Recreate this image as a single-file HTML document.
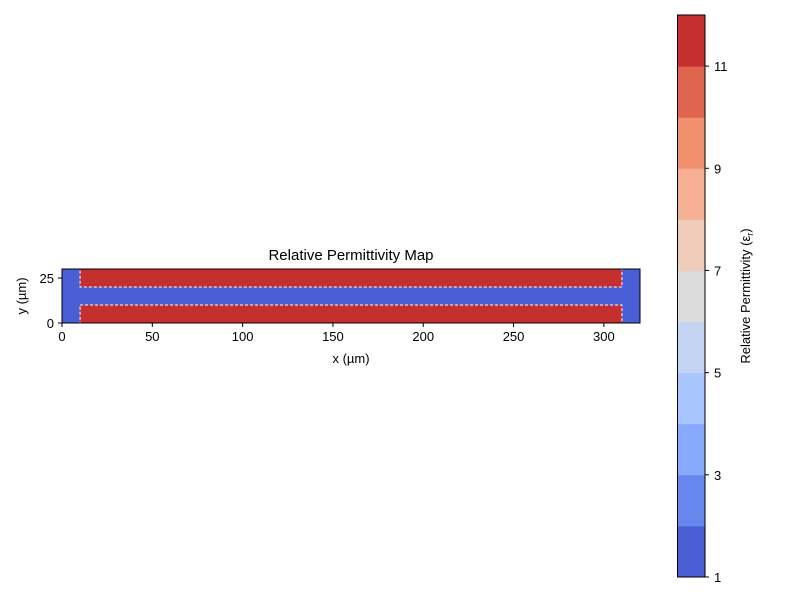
<!DOCTYPE html>
<html><head><meta charset="utf-8"><style>
body{margin:0;background:#fff;}
svg text{font-family:"Liberation Sans","DejaVu Sans",sans-serif;fill:#000;}
</style></head><body>
<svg id="chart" width="800" height="600" viewBox="0 0 800 600" xmlns="http://www.w3.org/2000/svg"></svg>
<script>
const xTicks=[0,50,100,150,200,250,300];
const yTicks=[0,25];
const regionX=[10,310];          // red strips span in x (µm)
const regionY=[[0,10],[20,30]];  // red strip y ranges (µm)
const domainX=[0,320], domainY=[0,30];
const levels=[1,2,3,4,5,6,7,8,9,10,11,12];
const cbTicks=[1,3,5,7,9,11];
const bandColors=["#4a5fd6","#6687ed","#88aafc","#a8c5fe","#c4d5f3","#dcdcdc","#f0cdbb","#f6b194","#f1906f","#e0654f","#c5302f"];
const blue="#4a5fd6", red="#c5302f";

const NS="http://www.w3.org/2000/svg";
const svg=document.getElementById('chart');
function mk(t,a,p){const e=document.createElementNS(NS,t);for(const k in a)e.setAttribute(k,a[k]);(p||svg).appendChild(e);return e;}
const L=62,R=640,T=269,B=323;
const sx=v=>L+(v-domainX[0])/(domainX[1]-domainX[0])*(R-L);
const sy=v=>B-(v-domainY[0])/(domainY[1]-domainY[0])*(B-T);

let bg=mk('rect',{x:L,y:T,width:R-L,height:B-T,fill:blue});


regionY.forEach((r,i)=>{
  let e=mk('rect',{x:sx(regionX[0]),y:sy(r[1]),width:sx(regionX[1])-sx(regionX[0]),height:sy(r[0])-sy(r[1]),fill:red});
  
  
  let o=mk('rect',{x:sx(regionX[0]),y:sy(r[1]),width:sx(regionX[1])-sx(regionX[0]),height:sy(r[0])-sy(r[1]),fill:'none',stroke:'#fff','stroke-width':1,'stroke-dasharray':'3,2'});
  
  
});
let fr=mk('rect',{x:L,y:T,width:R-L,height:B-T,fill:'none',stroke:'#000','stroke-width':1});



xTicks.forEach(v=>{
  mk('line',{x1:sx(v),x2:sx(v),y1:B,y2:B+4,stroke:'#000'});
  let t=mk('text',{x:sx(v),y:B+18,'text-anchor':'middle','font-size':13});t.textContent=v;
  
  
});
yTicks.forEach(v=>{
  mk('line',{x1:L-4,x2:L,y1:sy(v),y2:sy(v),stroke:'#000'});
  let t=mk('text',{x:L-8,y:sy(v)+5,'text-anchor':'end','font-size':13});t.textContent=v;
  
  
});
let xt=mk('text',{x:(L+R)/2,y:363,'text-anchor':'middle','font-size':13});xt.textContent='x (µm)';

let yt=mk('text',{x:26,y:(T+B)/2,'text-anchor':'middle','font-size':13,transform:`rotate(-90 26 ${(T+B)/2})`});yt.textContent='y (µm)';

let ti=mk('text',{x:(L+R)/2,y:260,'text-anchor':'middle','font-size':15});ti.textContent='Relative Permittivity Map';


// colorbar
const CL=677.5,CR=705,CT=15,CB=577;
const cy=v=>CB-(v-levels[0])/(levels[levels.length-1]-levels[0])*(CB-CT);
bandColors.forEach((c,i)=>{
  let e=mk('rect',{x:CL,y:cy(levels[i+1]),width:CR-CL,height:cy(levels[i])-cy(levels[i+1])+0.5,fill:c});
  
  
});
let cf=mk('rect',{x:CL,y:CT,width:CR-CL,height:CB-CT,fill:'none',stroke:'#000'});

cbTicks.forEach(v=>{
  mk('line',{x1:CR,x2:CR+4,y1:cy(v),y2:cy(v),stroke:'#000'});
  let t=mk('text',{x:CR+9,y:cy(v)+5,'font-size':13});t.textContent=v;
  
  
});
let ct=mk('text',{x:750,y:296,'text-anchor':'middle','font-size':13,transform:'rotate(-90 750 296)'});
ct.innerHTML='Relative Permittivity (ε<tspan font-size="9" dy="3">r</tspan><tspan dy="-3">)</tspan>';

</script>
</body></html>
